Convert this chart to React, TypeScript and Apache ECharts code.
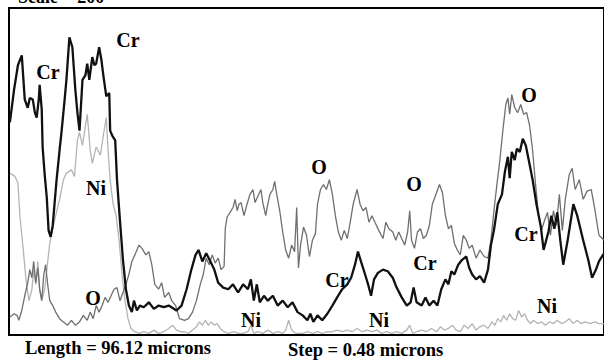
import React, { useEffect, useRef } from "react";
import * as echarts from "echarts";

// x = step index (step = 0.48 microns, 200 steps ≈ 96.12 microns), y = counts (scale = 200)
const crProfile: [number, number][] = [
  [0.3, 130], [1.7, 150], [3, 165], [4.3, 171], [5.3, 144], [6.3, 139], [7, 145], [8, 144], [8.7, 136], [9.3, 133],
  [10, 144], [10.3, 153], [11, 138], [11.3, 115], [12, 98], [12.7, 84], [13.3, 64], [14, 60], [14.7, 67], [15.3, 80],
  [16, 95], [17, 113], [17.7, 125], [18.7, 144], [19.3, 156], [20.3, 182], [21.3, 176], [22.3, 150], [23, 136], [23.7, 125],
  [24.7, 156], [25.7, 159], [26.3, 166], [27, 156], [28, 170], [28.7, 165], [29.3, 166], [30.3, 176], [31, 169], [31.7, 159],
  [32.7, 146], [33.7, 148], [34, 125], [34.7, 122], [35.7, 119], [36.3, 95], [37.3, 70],
  [38.3, 46], [39.3, 28], [40.3, 18], [41.3, 14], [42, 21], [43, 15], [44, 18], [45.3, 17], [47, 20], [48.7, 16],
  [50.3, 18], [52, 17], [53.7, 18], [56.3, 15], [58, 18], [59.7, 28], [61.3, 40], [62.7, 49], [63.7, 52], [65, 45],
  [66.3, 50], [67.7, 45], [69, 40], [70.3, 32], [72, 29], [73.7, 28], [75.3, 31], [77, 26], [78.7, 31], [80.3, 28],
  [81.3, 34], [82.3, 21], [83.3, 31], [84.3, 20], [85.7, 24], [87, 21], [88.7, 24], [90.3, 18], [92, 21], [93.7, 17],
  [95.3, 20], [97, 14], [98.7, 12], [100.3, 9], [101.3, 13], [102.3, 8], [103.7, 12], [105.3, 9], [107, 13], [108.7, 18],
  [110.3, 23], [112, 28], [113.7, 31], [115, 35], [116.3, 43], [117.3, 51], [118.3, 45], [119.7, 37], [120.7, 31], [121.7, 24],
  [122.7, 34], [124, 38], [125.7, 40], [127.3, 39], [129, 35], [130.3, 29], [132, 23], [133.7, 18], [135, 20], [136, 29],
  [137, 20], [138.7, 18], [140, 23], [141.3, 18], [142.7, 21], [144, 18], [145.3, 28], [146.7, 34], [147.7, 31], [148.7, 39],
  [149.7, 37], [151, 43], [152.3, 46], [153.7, 48], [154.7, 41], [155.7, 37], [157, 34], [158.3, 36], [159.7, 32], [161, 40],
  [162, 55], [163, 64], [164.3, 80], [165.7, 86], [166.7, 100], [167.7, 109], [168.3, 96], [169, 112], [170, 107], [170.7, 114],
  [171.7, 112], [172.7, 120], [173.7, 116], [174.7, 107], [176, 95], [177.3, 80], [178.7, 67], [179.7, 52], [181.3, 63], [182.3, 73],
  [183.3, 65], [184.3, 75], [185.3, 58], [186.3, 43], [187.7, 57], [189.7, 80], [191, 73], [193, 58], [194.7, 46], [196, 35],
  [197.3, 40], [198.3, 45], [200, 50],
];

const oProfile: [number, number][] = [
  [0.3, 11], [1.7, 13], [2.7, 12], [3.3, 9], [4.3, 15], [5.3, 24], [6.3, 32], [7, 40], [7.7, 35], [8.3, 45],
  [9, 32], [9.7, 41], [10.3, 28], [11, 21], [11.7, 37], [12.3, 43], [13, 31], [13.7, 21], [14.7, 18], [15.7, 14],
  [17, 10], [18.3, 8], [19.7, 6], [21, 9], [22.3, 6], [23.7, 8], [25, 12], [26.3, 9], [27.3, 14], [28.3, 10],
  [29.3, 18], [30.3, 14], [31.3, 18], [32.3, 23], [33.3, 20], [34.3, 24], [35.3, 28], [36.3, 29], [37.3, 21], [38.3, 26],
  [39.3, 31], [40.3, 37], [41.3, 45], [42.3, 49], [43.7, 55], [44.7, 53], [46, 49], [47, 51], [48, 43], [49, 31],
  [50.3, 28], [51.3, 32], [52.3, 23], [53.7, 26], [54.7, 21], [56, 18], [57.3, 10], [59, 9], [60.3, 10], [61.7, 14],
  [63, 21], [64.3, 31], [65.3, 37], [66.3, 47], [67.3, 43], [68.3, 49], [69.3, 44], [70.3, 47], [71.3, 40], [72.3, 42],
  [72.7, 65], [73.3, 72], [74.3, 75], [75.3, 78], [76, 83], [76.7, 76], [77.3, 80], [78, 81], [79, 73], [80, 80],
  [81, 86], [82, 89], [82.7, 81], [83.7, 85], [84.7, 89], [85.3, 81], [86.3, 73], [87, 80], [87.7, 86], [88.7, 89],
  [89.3, 94], [90, 86], [91, 76], [92, 63], [93, 52], [94, 47], [95, 55], [96, 51], [96.7, 78], [97.3, 41],
  [98, 55], [99, 66], [100, 61], [101, 48], [102, 58], [103, 62], [103.7, 80], [104.7, 89], [105.7, 92], [106.7, 89],
  [107.7, 95], [108.7, 86], [109.7, 73], [110.7, 63], [111.7, 58], [112.7, 64], [113.7, 59], [114.7, 69], [115.7, 80], [117, 89],
  [118, 80], [119, 76], [120, 78], [121, 69], [122, 73], [123, 69], [124.3, 64], [125.7, 59], [126.7, 69], [127.7, 65],
  [129, 63], [130, 58], [131, 63], [132, 59], [133, 55], [134, 63], [134.7, 76], [135.3, 58], [136.3, 53], [137.3, 63],
  [138.3, 65], [139.3, 59], [140.3, 61], [141.3, 67], [142.3, 80], [143.7, 87], [144.7, 92], [145.7, 87], [146.7, 73], [147.7, 65],
  [148.7, 67], [149.7, 56], [150.7, 52], [151.7, 49], [152.7, 61], [153.7, 58], [154.7, 53], [155.7, 55], [157, 47], [158.3, 52],
  [159.7, 48], [161, 47], [162, 58], [163, 76], [164, 92], [165, 107], [166, 125], [167, 141], [167.7, 145], [168.3, 135],
  [169, 147], [170, 139], [171, 136], [172, 141], [173, 135], [174, 136], [175, 128], [176, 113], [177, 92], [178, 73],
  [179, 64], [180, 70], [181, 75], [182, 61], [183, 76], [184, 67], [185, 86], [186, 64], [187, 83], [188.3, 98],
  [189.3, 102], [190.3, 89], [191.7, 95], [193, 83], [194.3, 88], [195.7, 89], [197, 76], [198.3, 61], [200, 58],
];

const niProfile: [number, number][] = [
  [0.3, 99], [2, 97], [3, 93], [3.7, 72], [4.7, 54], [5.7, 34], [6.7, 21], [7.7, 28], [8.3, 40],
  [9, 31], [9.7, 45], [10.3, 28], [11, 21], [12, 28], [12.7, 40], [13.7, 56], [15.3, 70], [17, 83], [18.3, 95],
  [19.3, 99], [21, 101], [22, 97], [23, 119], [23.7, 124], [24.7, 116], [25.7, 128], [26.3, 135], [27.3, 113], [28, 105],
  [29.3, 115], [30.7, 110], [31.7, 122], [32.7, 133], [33.3, 113],
  [34, 95], [35, 80], [36, 73], [37, 58], [38, 37], [39, 21], [40, 10], [41, 4], [42.3, 2], [43.7, 1],
  [45.3, 2], [47, 1], [48.7, 3], [50.3, 1], [52, 2], [53.7, 4], [55, 6], [56.3, 3], [57.7, 2], [59, 2],
  [60.3, 1], [61.7, 3], [63, 5], [64, 8], [65, 6], [66, 9], [67, 6], [68, 8], [69, 6], [70, 7],
  [71, 4], [72.3, 2], [73.7, 1], [75.7, 2], [77, 1], [78.7, 1], [80.3, 2], [81.3, 6], [82.3, 1], [83.7, 2],
  [85.3, 1], [87, 3], [88.7, 1], [90.3, 2], [92, 1], [93, 3], [94, 9], [95, 3], [96.3, 1], [98.7, 1],
  [100.3, 2], [102, 1], [103.7, 2], [105.3, 1], [107, 2], [108.7, 2], [110.3, 3], [112, 2], [113.7, 3], [115.3, 2],
  [117, 4], [118.7, 2], [120.3, 3], [122, 2], [123.7, 3], [125.3, 1], [127, 2], [128.7, 1], [130.3, 2], [132, 1],
  [133.7, 3], [134.7, 6], [135.7, 1], [137, 2], [138.7, 3], [140.3, 2], [142, 4], [143.7, 2], [145, 5], [146.3, 3],
  [147.7, 4], [149, 6], [150.3, 3], [151.7, 2], [153, 6], [154.3, 4], [155.7, 7], [157, 3], [158.3, 5], [159.7, 6],
  [161, 4], [162.3, 8], [163.3, 6], [164.3, 10], [165.3, 8], [166.3, 12], [167.3, 9], [168.3, 13], [169.3, 10], [170.3, 9],
  [171.3, 15], [172.3, 11], [173.3, 13], [174.3, 9], [175.3, 7], [176.3, 9], [177.7, 7], [179, 8], [180.3, 6], [181.7, 8],
  [183, 7], [184.3, 9], [185.7, 7], [187, 8], [188.3, 10], [189.7, 7], [191, 9], [192.3, 7], [193.7, 8], [195.3, 7],
  [197, 8], [198.3, 7], [200, 7],
];

const titleText = "Scale = 200";
const lengthText = "Length = 96.12 microns";
const stepText = "Step = 0.48 microns";

const crLabels = ["Cr", "Cr", "Cr", "Cr", "Cr"];
const oLabels = ["O", "O", "O", "O"];
const niLabels = ["Ni", "Ni", "Ni", "Ni"];

const FONT = '"Liberation Serif", "Times New Roman", serif';

export default function App() {
  const ref = useRef<HTMLDivElement>(null);
  useEffect(() => {
    if (!ref.current) return;
    const chart = echarts.init(ref.current, null, { renderer: "svg" });
    const labelPos = {
      Cr: [[48, 72], [128, 40], [337, 280], [425, 263], [526, 234]],
      O: [[93, 298], [319, 167], [414, 184], [529, 95]],
      Ni: [[96, 188], [251, 320], [379, 320], [547, 306]],
    } as Record<string, number[][]>;
    const mk = (txt: string, p: number[]) => ({
      type: "text",
      x: p[0],
      y: p[1],
      style: {
        text: txt,
        fill: "#000",
        font: `bold 20px ${FONT}`,
        textAlign: "center",
        textVerticalAlign: "middle",
      },
      z: 10,
    });
    const graphics: any[] = [];
    crLabels.forEach((t, i) => graphics.push(mk(t, labelPos.Cr[i])));
    oLabels.forEach((t, i) => graphics.push(mk(t, labelPos.O[i])));
    niLabels.forEach((t, i) => graphics.push(mk(t, labelPos.Ni[i])));
    graphics.push({
      type: "text", left: 25, top: 338,
      style: { text: lengthText, fill: "#000", font: `bold 18.5px ${FONT}` },
    });
    graphics.push({
      type: "text", left: 288, top: 340,
      style: { text: stepText, fill: "#000", font: `bold 18.5px ${FONT}` },
    });
    graphics.push({
      type: "text", x: 18, y: -3,
      style: { text: titleText, fill: "#000", font: `bold 18px ${FONT}`, textVerticalAlign: "middle" },
    });

    chart.setOption({
      animation: false,
      backgroundColor: "#fff",
      grid: {
        left: 9, top: 8, width: 600, height: 327,
        show: true, borderColor: "#000", borderWidth: 2, backgroundColor: "transparent",
      },
      xAxis: { type: "value", min: 0, max: 200, show: false },
      yAxis: { type: "value", min: 0, max: 200, show: false },
      series: [
        {
          name: "Ni", type: "line", data: niProfile, showSymbol: false, smooth: false,
          lineStyle: { color: "#b4b4b4", width: 1.3 }, z: 2,
        },
        {
          name: "O", type: "line", data: oProfile, showSymbol: false,
          lineStyle: { color: "#6f6f6f", width: 1.3 }, z: 3,
        },
        {
          name: "Cr", type: "line", data: crProfile, showSymbol: false,
          lineStyle: { color: "#111", width: 2.3 }, z: 4,
        },
      ],
      graphic: graphics,
    });
    return () => chart.dispose();
  }, []);
  return (
    <div
      ref={ref}
      style={{ position: "fixed", left: 0, top: 0, width: 604, height: 360, background: "#fff" }}
    />
  );
}
